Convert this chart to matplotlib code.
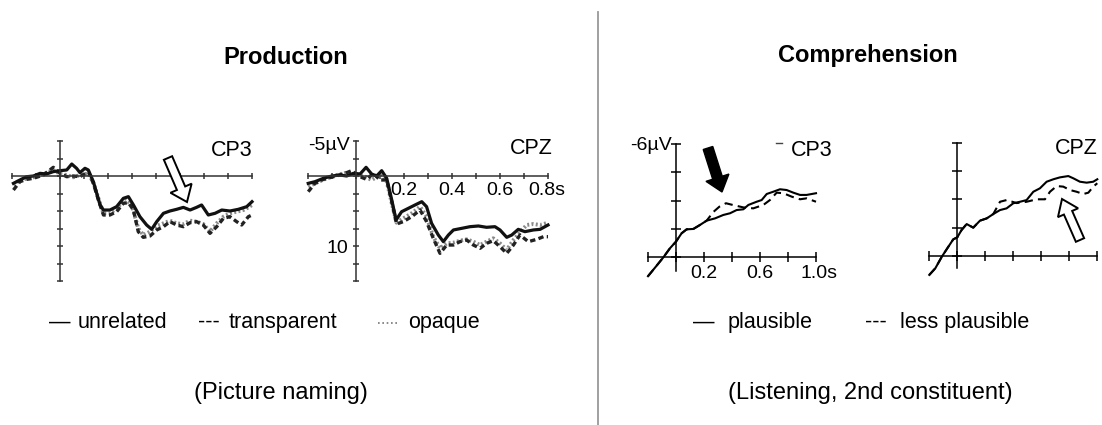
import matplotlib
matplotlib.use('Agg')
import matplotlib.pyplot as plt
from matplotlib.patches import FancyArrow
from matplotlib.lines import Line2D

plt.rcParams['font.family'] = ['Liberation Sans', 'DejaVu Sans']

# ---------------- data (time in s, amplitude in µV, negative up) ----------------
# Production, CP3
p_cp3_unrel_t = [-0.194,-0.167,-0.139,-0.111,-0.083,-0.056,-0.028,0,0.028,0.049,0.069,0.083,0.104,0.118,0.139,0.153,0.167,0.181,0.208,0.236,0.264,0.285,0.306,0.333,0.361,0.382,0.403,0.431,0.458,0.486,0.514,0.542,0.569,0.590,0.618,0.646,0.674,0.708,0.743,0.778,0.8]
p_cp3_unrel_v = [1.05,0.57,0.1,0,-0.38,-0.29,-0.62,-0.76,-0.86,-1.71,-1.1,-0.48,-1.1,-0.86,0.81,2.48,4.14,4.86,4.86,4.38,3.19,2.95,4.14,5.81,7.0,7.62,6.52,5.33,5.0,4.76,4.48,4.86,4.48,4.14,5.57,5.33,4.86,5.0,4.76,4.38,3.67]
p_cp3_transp_t = [-0.194,-0.167,-0.139,-0.111,-0.069,-0.028,0,0.028,0.056,0.083,0.118,0.139,0.160,0.181,0.208,0.236,0.264,0.285,0.306,0.326,0.347,0.375,0.403,0.431,0.458,0.486,0.514,0.542,0.569,0.597,0.625,0.653,0.681,0.708,0.736,0.757,0.785,0.8]
p_cp3_transp_v = [2.0,0.81,0.48,0.33,-0.14,-1.24,-0.38,0.1,0,0.1,-0.62,1.05,3.43,5.57,5.57,5.1,3.9,3.81,4.86,7.95,8.76,8.57,7.71,7.24,6.52,7.0,7.24,6.67,6.52,7.0,8.19,7.24,6.05,5.81,6.52,7.0,5.81,5.57]
p_cp3_opaque_t = [-0.194,-0.167,-0.111,-0.069,-0.028,0,0.028,0.056,0.083,0.118,0.139,0.160,0.181,0.208,0.236,0.271,0.299,0.326,0.347,0.375,0.403,0.431,0.458,0.486,0.514,0.542,0.569,0.597,0.625,0.653,0.681,0.708,0.736,0.764,0.785,0.8]
p_cp3_opaque_v = [1.29,0.57,0.19,-0.29,-0.86,-0.29,-0.14,0.19,-0.14,-0.38,0.95,3.19,5.33,5.33,4.62,3.33,4.14,7.48,8.43,7.95,7.14,6.76,6.38,6.76,6.86,6.38,6.52,6.86,7.95,6.76,5.81,5.33,5.1,4.86,4.48,4.14]

# Production, CPZ
p_cpz_unrel_t = [-0.199,-0.171,-0.136,-0.101,-0.067,-0.039,-0.011,0.017,0.042,0.065,0.086,0.107,0.128,0.149,0.167,0.190,0.218,0.246,0.274,0.294,0.315,0.343,0.364,0.385,0.406,0.440,0.475,0.510,0.544,0.579,0.600,0.628,0.649,0.676,0.704,0.739,0.767,0.8]
p_cpz_unrel_v = [1.05,0.81,0.33,0,-0.14,0,-0.38,-0.29,-1.24,-0.29,0,-0.76,0.33,3.43,6.29,5.1,4.62,4.14,3.67,4.38,6.76,8.43,9.38,8.43,7.71,7.48,7.24,7.14,7.33,7.24,7.71,8.76,8.43,7.62,7.95,7.71,7.62,7.0]
p_cpz_transp_t = [-0.199,-0.171,-0.136,-0.094,-0.053,-0.018,0.017,0.044,0.072,0.100,0.128,0.149,0.169,0.197,0.232,0.267,0.294,0.322,0.350,0.378,0.406,0.433,0.461,0.489,0.517,0.544,0.572,0.600,0.628,0.656,0.683,0.718,0.753,0.781,0.8]
p_cpz_transp_v = [2.24,1.05,0.48,0.1,-0.29,-0.76,0.1,0.48,-0.38,0.57,0.57,3.67,6.86,6.52,5.81,4.86,6.52,8.9,11.05,9.86,9.86,9.38,9.14,9.86,10.33,9.62,9.24,10.1,11.05,9.86,8.43,9.38,9.05,8.67,8.67]
p_cpz_opaque_t = [-0.199,-0.164,-0.122,-0.081,-0.039,0.003,0.038,0.065,0.100,0.128,0.149,0.169,0.197,0.232,0.267,0.294,0.322,0.350,0.378,0.406,0.433,0.461,0.489,0.517,0.544,0.572,0.600,0.628,0.656,0.683,0.711,0.739,0.767,0.8]
p_cpz_opaque_v = [1.52,0.95,0.33,-0.14,-0.48,-0.14,0.1,0.57,-0.14,0.81,3.9,6.67,6.05,5.33,4.38,5.81,8.67,10.33,9.62,9.52,9.24,9.05,9.38,9.86,9.38,8.9,9.62,10.57,9.14,8.05,7.0,6.86,7.0,6.67]

# Comprehension, CP3
c_cp3_plaus_t = [-0.2,-0.148,-0.090,-0.043,0,0.040,0.076,0.124,0.171,0.219,0.279,0.338,0.386,0.433,0.481,0.517,0.576,0.612,0.648,0.695,0.743,0.790,0.838,0.886,0.933,1.0]
c_cp3_plaus_v = [1.0,0.53,0,-0.48,-0.83,-1.27,-1.48,-1.5,-1.71,-1.94,-2.06,-2.24,-2.33,-2.5,-2.54,-2.77,-2.94,-3.03,-3.35,-3.47,-3.6,-3.56,-3.42,-3.3,-3.3,-3.39]
c_cp3_less_t = [-0.2,-0.148,-0.090,-0.043,0,0.040,0.076,0.124,0.171,0.219,0.267,0.31,0.357,0.405,0.481,0.552,0.624,0.671,0.719,0.767,0.826,0.886,0.933,1.0]
c_cp3_less_v = [1.0,0.53,0,-0.48,-0.83,-1.27,-1.48,-1.5,-1.71,-1.94,-2.4,-2.68,-2.86,-2.77,-2.64,-2.59,-2.77,-3.03,-3.42,-3.39,-3.21,-3.07,-3.12,-2.94]

# Comprehension, CPZ
c_cpz_plaus_t = [-0.2,-0.157,-0.110,-0.064,-0.029,0,0.031,0.067,0.114,0.162,0.210,0.257,0.305,0.352,0.400,0.448,0.495,0.543,0.590,0.638,0.686,0.733,0.793,0.829,0.876,0.924,0.971,1.0]
c_cpz_plaus_v = [1.0,0.65,0.03,-0.49,-0.88,-0.99,-1.38,-1.69,-1.5,-1.87,-1.99,-2.22,-2.43,-2.52,-2.79,-2.87,-2.96,-3.4,-3.58,-3.93,-4.06,-4.16,-4.23,-4.11,-3.93,-3.88,-3.93,-4.06]
c_cpz_less_t = [-0.2,-0.157,-0.110,-0.064,-0.029,0,0.031,0.067,0.114,0.162,0.210,0.257,0.305,0.352,0.424,0.495,0.567,0.626,0.662,0.710,0.757,0.805,0.852,0.900,0.936,0.971,1.0]
c_cpz_less_v = [1.0,0.65,0.03,-0.49,-0.88,-0.99,-1.38,-1.69,-1.5,-1.87,-1.99,-2.22,-2.87,-2.96,-2.8,-2.87,-3.0,-3.0,-3.4,-3.7,-3.67,-3.49,-3.4,-3.28,-3.35,-3.67,-3.85]

prod_xticks = [-0.2,-0.1,0,0.1,0.2,0.3,0.4,0.5,0.6,0.7,0.8]
prod_yticks = [-5,-2.5,0,2.5,5,7.5,10,12.5,15]
comp_xticks = [-0.2,0,0.2,0.4,0.6,0.8,1.0]
comp_yticks = [-6,-4.5,-3,-1.5,0]

# ---------------- layout ----------------
W, H = 1102, 425
fig = plt.figure(figsize=(W/100, H/100), dpi=100)


def make_axes(x0, x1, px0, pxscale, v_top, v_bot, py0, pyscale):
    """axes so that time x -> px0 + pxscale*x, value v -> py0 + pyscale*v (pixels from top)."""
    left = px0 + pxscale * x0
    right = px0 + pxscale * x1
    top = py0 + pyscale * v_top
    bot = py0 + pyscale * v_bot
    ax = fig.add_axes([left / W, 1 - bot / H, (right - left) / W, (bot - top) / H])
    ax.set_xlim(x0, x1)
    ax.set_ylim(v_bot, v_top)
    ax.patch.set_visible(False)
    for s in ['top', 'right']:
        ax.spines[s].set_visible(False)
    ax.spines['left'].set_position(('data', 0))
    ax.spines['bottom'].set_position(('data', 0))
    ax.tick_params(labelbottom=False, labelleft=False)
    return ax


def style_axes(ax, xt, yt, color, lw, tlen):
    ax.set_xticks(xt)
    ax.set_yticks(yt)
    for s in ['left', 'bottom']:
        ax.spines[s].set_color(color)
        ax.spines[s].set_linewidth(lw)
    ax.tick_params(direction='inout', length=tlen, width=lw, color=color)


prod_axes = []
for px0 in (60, 356):
    ax = make_axes(-0.2, 0.8, px0, 240, -5, 15, 176, 7)
    style_axes(ax, prod_xticks, prod_yticks, '#333333', 1.1, 5)
    prod_axes.append(ax)

ax3 = make_axes(-0.2, 1.0, 676, 140, -6, 0.7, 257.3, 18.9)
ax4 = make_axes(-0.2, 1.0, 957.3, 140, -6, 0.65, 256, 18.9)
for ax in (ax3, ax4):
    style_axes(ax, comp_xticks, comp_yticks, 'black', 1.1, 7)

series_prod = [
    (p_cp3_unrel_t, p_cp3_unrel_v, p_cp3_transp_t, p_cp3_transp_v, p_cp3_opaque_t, p_cp3_opaque_v),
    (p_cpz_unrel_t, p_cpz_unrel_v, p_cpz_transp_t, p_cpz_transp_v, p_cpz_opaque_t, p_cpz_opaque_v),
]
for ax, (ut, uv, tt, tv, ot, ov) in zip(prod_axes, series_prod):
    ax.plot(ot, ov, color='#8a8a8a', lw=2.8, ls=(0, (0.5, 0.6)), clip_on=False)
    ax.plot(tt, tv, color='#222222', lw=2.4, ls=(0, (1.6, 1.0)), clip_on=False)
    ax.plot(ut, uv, color='#111111', lw=2.3, clip_on=False)

for ax, (pt, pv, lt, lv) in zip((ax3, ax4), [
        (c_cp3_plaus_t, c_cp3_plaus_v, c_cp3_less_t, c_cp3_less_v),
        (c_cpz_plaus_t, c_cpz_plaus_v, c_cpz_less_t, c_cpz_less_v)]):
    ax.plot(lt, lv, color='black', lw=1.5, ls=(0, (4, 2.5)), clip_on=False)
    ax.plot(pt, pv, color='black', lw=1.5, clip_on=False)

# ---------------- overlay (pixel coordinates) ----------------
ov = fig.add_axes([0, 0, 1, 1])
ov.set_xlim(0, W)
ov.set_ylim(H, 0)
ov.axis('off')
ov.patch.set_visible(False)

ov.plot([598, 598], [12, 425], color='#999999', lw=1.3)

ov.text(286, 57, 'Production', ha='center', va='center', fontsize=17, fontweight='bold')
ov.text(868, 55, 'Comprehension', ha='center', va='center', fontsize=17, fontweight='bold')
ov.text(281, 393, '(Picture naming)', ha='center', va='center', fontsize=17)
ov.text(870, 393, '(Listening, 2nd constituent)', ha='center', va='center', fontsize=17)

lab = dict(fontsize=15.5, va='center')
ov.text(253, 150, 'CP3', ha='right', **lab)
ov.text(553, 149, 'CPZ', ha='right', **lab)
ov.text(832, 150, 'CP3', ha='right', **lab)
ov.text(1098, 149, 'CPZ', ha='right', **lab)
ov.add_line(Line2D([776, 782], [143, 143], color='#444444', lw=1.0))

tk = dict(fontsize=14, va='center')
ov.text(350, 145, '-5µV', ha='right', **tk)
ov.text(348, 248, '10', ha='right', **tk)
for lbl, x in (('0.2', 404), ('0.4', 452), ('0.6', 500)):
    ov.text(x, 190, lbl, ha='center', **tk)
ov.text(528, 190, '0.8s', ha='left', **tk)
ov.text(672, 145, '-6µV', ha='right', **tk)
ov.text(704, 273, '0.2', ha='center', **tk)
ov.text(760, 273, '0.6', ha='center', **tk)
ov.text(800, 273, '1.0s', ha='left', **tk)

# arrows
ov.add_patch(FancyArrow(168, 158, 187 - 168, 202 - 158, width=9, head_width=23, head_length=15,
                        length_includes_head=True, facecolor='white', edgecolor='black', lw=1.4, zorder=5))
ov.add_patch(FancyArrow(708, 148, 722 - 708, 192 - 148, width=10, head_width=24, head_length=15,
                        length_includes_head=True, facecolor='black', edgecolor='black', lw=1.0, zorder=5))
ov.add_patch(FancyArrow(1080, 240, 1062 - 1080, 199 - 240, width=9, head_width=22, head_length=15,
                        length_includes_head=True, facecolor='white', edgecolor='black', lw=1.4, zorder=5))

# legends
lg = dict(fontsize=15.5, va='baseline')
ov.text(49, 328, '—', ha='left', **lg)
ov.text(78, 328, 'unrelated', ha='left', **lg)
ov.text(198, 328, '---', ha='left', **lg)
ov.text(229, 328, 'transparent', ha='left', **lg)
ov.add_line(Line2D([378, 397], [323, 323], color='#777777', lw=1.2, ls=(0, (1, 1.6))))
ov.text(408, 328, 'opaque', ha='left', **lg)

ov.text(693, 328, '—', ha='left', **lg)
ov.text(728, 328, 'plausible', ha='left', **lg)
ov.text(865, 328, '---', ha='left', **lg)
ov.text(900, 328, 'less plausible', ha='left', **lg)

fig.savefig('out.png', dpi=100, facecolor='white')
